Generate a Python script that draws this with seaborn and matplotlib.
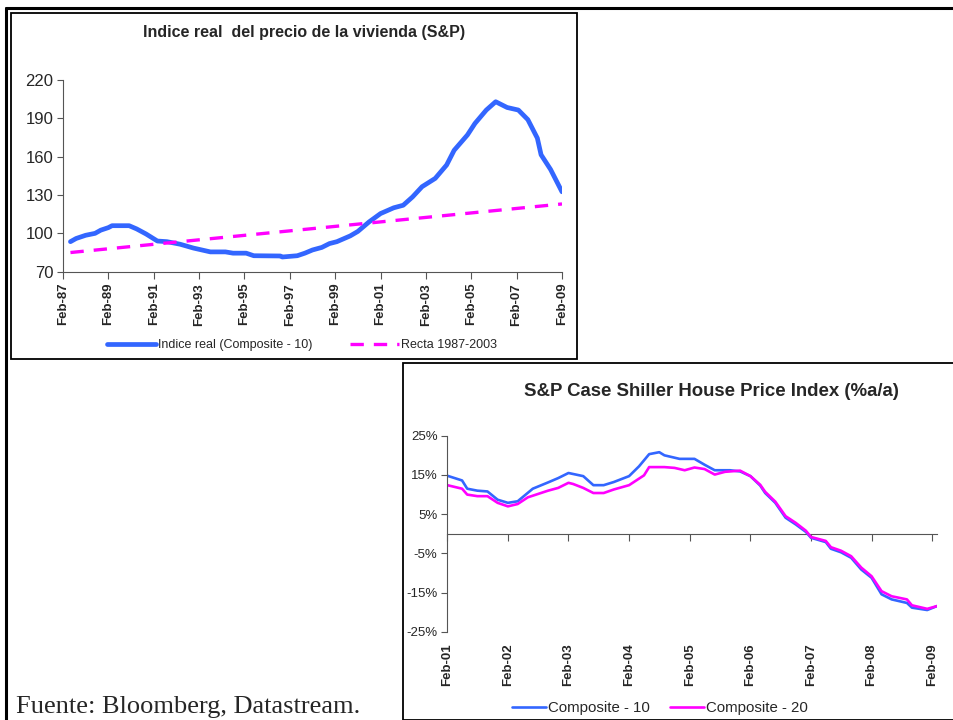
import matplotlib
matplotlib.use("Agg")
import matplotlib.pyplot as plt
import matplotlib.dates as mdates
from matplotlib.patches import Rectangle
from matplotlib.lines import Line2D
import seaborn as sns
import pandas as pd

# --- data: real house price index (Composite-10) ---
real_dates = ["1987-06", "1987-09", "1988-02", "1988-07", "1988-10", "1989-02", "1989-04",
              "1990-01", "1990-05", "1990-10", "1991-04", "1991-09", "1992-04", "1992-11",
              "1993-08", "1994-04", "1994-08", "1995-03", "1995-07", "1996-09", "1996-10",
              "1997-06", "1997-10", "1998-02", "1998-07", "1998-11", "1999-03", "1999-10",
              "2000-02", "2000-08", "2001-02", "2001-09", "2002-02", "2002-07", "2002-12",
              "2003-07", "2004-01", "2004-05", "2004-12", "2005-04", "2005-10", "2006-03",
              "2006-09", "2007-03", "2007-08", "2008-01", "2008-03", "2008-08", "2009-02"]
real_index = [93.5, 96, 98.5, 100, 102.5, 104.5, 106, 106, 103.5, 99.5, 94, 93.5, 91.5, 88.5,
              85.5, 85.5, 84.5, 84.5, 82.5, 82.3, 81.5, 82.5, 84.5, 87, 89, 92, 93.5, 98,
              101.5, 109, 115.5, 120, 122, 128.5, 136.5, 143, 153.5, 165, 177, 186, 196.5, 203,
              198.5, 196.5, 189, 174.5, 161.5, 150, 132.5]
trend_dates = ["1987-06", "2009-02"]
trend_index = [85, 123]
top_ticks = ["1987-02", "1989-02", "1991-02", "1993-02", "1995-02", "1997-02",
             "1999-02", "2001-02", "2003-02", "2005-02", "2007-02", "2009-02"]
top_labels = ["Feb-87", "Feb-89", "Feb-91", "Feb-93", "Feb-95", "Feb-97",
              "Feb-99", "Feb-01", "Feb-03", "Feb-05", "Feb-07", "Feb-09"]

# --- data: Case Shiller y/y % ---
c10_dates = ["2001-02", "2001-05", "2001-06", "2001-08", "2001-10", "2001-12", "2002-02",
             "2002-04", "2002-07", "2002-10", "2002-12", "2003-02", "2003-05", "2003-07",
             "2003-09", "2003-11", "2004-02", "2004-04", "2004-06", "2004-08", "2004-09",
             "2004-12", "2005-03", "2005-05", "2005-07", "2005-10", "2005-12", "2006-02",
             "2006-04", "2006-05", "2006-07", "2006-09", "2006-11", "2007-01", "2007-02",
             "2007-05", "2007-06", "2007-08", "2007-10", "2007-12", "2008-02", "2008-04",
             "2008-06", "2008-09", "2008-10", "2009-01", "2009-03"]
c10_yoy = [14.8, 13.6, 11.5, 11.0, 10.8, 8.7, 7.9, 8.3, 11.5, 13.1, 14.2, 15.5, 14.7, 12.4,
           12.4, 13.2, 14.7, 17.2, 20.3, 20.8, 20.0, 19.1, 19.1, 17.6, 16.2, 16.2, 15.9, 14.7,
           12.3, 10.4, 7.9, 4.1, 2.4, 0.5, -1.0, -2.1, -3.8, -4.7, -6.1, -9.1, -11.2, -15.4,
           -16.7, -17.6, -18.8, -19.4, -18.4]
c20_dates = ["2001-02", "2001-05", "2001-06", "2001-08", "2001-10", "2001-12", "2002-02",
             "2002-04", "2002-06", "2002-10", "2002-12", "2003-02", "2003-03", "2003-05",
             "2003-07", "2003-09", "2003-11", "2004-02", "2004-05", "2004-06", "2004-09",
             "2004-11", "2005-01", "2005-03", "2005-05", "2005-07", "2005-09", "2005-12",
             "2006-02", "2006-04", "2006-05", "2006-07", "2006-09", "2006-11", "2007-01",
             "2007-02", "2007-05", "2007-06", "2007-08", "2007-10", "2007-12", "2008-02",
             "2008-04", "2008-06", "2008-09", "2008-10", "2009-01", "2009-03"]
c20_yoy = [12.4, 11.5, 10.0, 9.6, 9.6, 7.9, 7.0, 7.6, 9.3, 11.0, 11.7, 13.0, 12.7, 11.7,
           10.4, 10.4, 11.3, 12.4, 14.9, 17.0, 17.0, 16.8, 16.2, 16.9, 16.5, 15.1, 15.8, 16.1,
           14.7, 12.5, 10.7, 8.2, 4.5, 2.8, 0.8, -0.8, -1.8, -3.4, -4.3, -5.7, -8.6, -10.8,
           -14.6, -15.9, -16.7, -18.2, -19.1, -18.4]
bot_ticks = ["2001-02", "2002-02", "2003-02", "2004-02", "2005-02",
             "2006-02", "2007-02", "2008-02", "2009-02"]
bot_labels = ["Feb-01", "Feb-02", "Feb-03", "Feb-04", "Feb-05",
              "Feb-06", "Feb-07", "Feb-08", "Feb-09"]
pct_ticks = [25, 15, 5, -5, -15, -25]
pct_labels = ["25%", "15%", "5%", "-5%", "-15%", "-25%"]

BLUE = "#3366ff"
MAGENTA = "#ff00ff"
AXC = "#555555"

sns.set_style("white")
plt.rcParams["font.family"] = ["Liberation Sans", "DejaVu Sans"]

W, H = 954, 720
fig = plt.figure(figsize=(W / 100, H / 100), dpi=100)


def fx(px):
    return px / W


def fy(py):
    return 1 - py / H


# frames
fig.add_artist(Line2D([fx(6), fx(6)], [fy(8), 0], color="black", lw=2.2))
fig.add_artist(Line2D([fx(6), 1], [fy(8), fy(8)], color="black", lw=2.2))
fig.add_artist(Rectangle((fx(11), fy(359)), fx(577) - fx(11), fy(13) - fy(359),
                         fill=False, ec="black", lw=1.3))
fig.add_artist(Rectangle((fx(403), fy(720)), 1, fy(364) - fy(720) + 0.001,
                         fill=False, ec="black", lw=1.3))

# ---------- top chart ----------
ax1 = fig.add_axes([fx(63), fy(271.7), fx(562) - fx(63), fy(80) - fy(271.7)])
sns.lineplot(x=pd.to_datetime(real_dates), y=real_index, ax=ax1, color=BLUE,
             linewidth=3.4, label="Indice real (Composite - 10)")
sns.lineplot(x=pd.to_datetime(trend_dates), y=trend_index, ax=ax1, color=MAGENTA,
             linewidth=2.4, linestyle=(0, (4, 3)), label="Recta 1987-2003")
tt = mdates.date2num(pd.to_datetime(top_ticks))
ax1.set_xlim(tt[0], tt[-1])
ax1.set_ylim(70, 220)
ax1.set_yticks([70, 100, 130, 160, 190, 220])
ax1.set_xticks(tt)
ax1.set_xticklabels(top_labels, rotation=90, fontweight="bold", fontsize=9.5)
ax1.tick_params(axis="y", labelsize=12, length=4, width=0.8, color=AXC, pad=3, direction="out", left=True)
ax1.tick_params(axis="x", length=5, width=0.8, color=AXC, pad=3, direction="out", bottom=True)
for s in ["top", "right"]:
    ax1.spines[s].set_visible(False)
for s in ["left", "bottom"]:
    ax1.spines[s].set_color(AXC)
    ax1.spines[s].set_linewidth(0.8)
ax1.set_xlabel("")
ax1.set_ylabel("")
h1, l1 = ax1.get_legend_handles_labels()
ax1.get_legend().remove()
fig.legend(h1, l1, loc="center", bbox_to_anchor=(fx(302), fy(345)), ncol=2, frameon=False,
           fontsize=9, handlelength=3.9, handletextpad=0.15, columnspacing=3.0)
fig.text(fx(304), fy(33), "Indice real  del precio de la vivienda (S&P)", ha="center",
         va="center", fontsize=11.5, fontweight="bold")

# ---------- bottom chart ----------
bt = mdates.date2num(pd.to_datetime(bot_ticks))
ax2 = fig.add_axes([fx(447.3), fy(632), fx(937) - fx(447.3), fy(435.7) - fy(632)])
sns.lineplot(x=pd.to_datetime(c10_dates), y=c10_yoy, ax=ax2, color=BLUE,
             linewidth=1.9, label="Composite - 10")
sns.lineplot(x=pd.to_datetime(c20_dates), y=c20_yoy, ax=ax2, color=MAGENTA,
             linewidth=1.9, label="Composite - 20")
ax2.set_xlim(bt[0], bt[-1] + 28)
ax2.set_ylim(-25, 25)
ax2.set_yticks(pct_ticks)
ax2.set_yticklabels(pct_labels)
ax2.set_xticks(bt)
ax2.set_xticklabels(bot_labels, rotation=90, fontweight="bold", fontsize=9.5)
ax2.tick_params(axis="y", labelsize=9.5, length=4, width=0.8, color=AXC, pad=3, direction="out", left=True)
ax2.tick_params(axis="x", length=0, pad=8)
for s in ["top", "right", "bottom"]:
    ax2.spines[s].set_visible(False)
ax2.spines["left"].set_color(AXC)
ax2.spines["left"].set_linewidth(0.8)
sec = ax2.secondary_xaxis(0, transform=ax2.transData)
sec.set_xticks(bt)
sec.tick_params(axis="x", labelbottom=False, length=5, width=0.8, color=AXC, direction="out")
sec.spines["bottom"].set_color(AXC)
sec.spines["bottom"].set_linewidth(0.8)
ax2.set_xlabel("")
ax2.set_ylabel("")
h2, l2 = ax2.get_legend_handles_labels()
ax2.get_legend().remove()
fig.legend(h2, l2, loc="center", bbox_to_anchor=(fx(660), fy(708)), ncol=2, frameon=False,
           fontsize=10.8, handlelength=2.3, handletextpad=0.15, columnspacing=1.3)
fig.text(fx(711), fy(392), "S&P Case Shiller House Price Index (%a/a)", ha="center",
         va="center", fontsize=13.4, fontweight="bold")

fig.text(fx(16), fy(713), "Fuente: Bloomberg, Datastream.", ha="left", va="baseline",
         fontsize=19, family=["Liberation Serif", "DejaVu Serif"])

fig.savefig("out.png", dpi=100)
